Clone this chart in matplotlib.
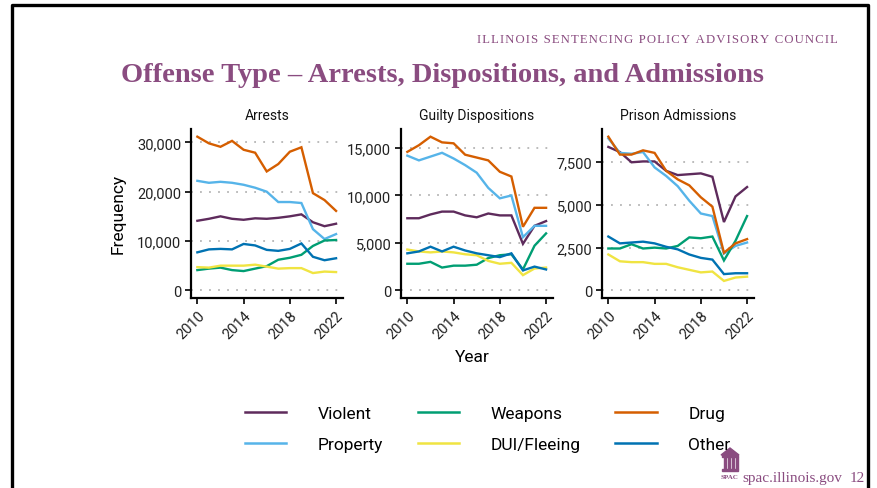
import matplotlib.pyplot as plt
from matplotlib.lines import Line2D
from matplotlib.patches import Rectangle

# --- data ---
years = list(range(2010, 2023))
offenses = ["Violent", "Property", "Weapons", "DUI/Fleeing", "Drug", "Other"]
colors = {
    "Violent": "#5E2B5C",
    "Property": "#56B4E9",
    "Weapons": "#009E73",
    "DUI/Fleeing": "#F0E442",
    "Drug": "#D55E00",
    "Other": "#0072B2",
}
panels = ["Arrests", "Guilty Dispositions", "Prison Admissions"]

arrests_violent = [14100, 14500, 15000, 14500, 14300, 14600, 14500, 14700, 15000, 15400, 13800, 13000, 13500]
arrests_property = [22200, 21800, 22000, 21800, 21400, 20800, 20000, 17900, 17900, 17700, 12400, 10400, 11400]
arrests_weapons = [4100, 4400, 4600, 4100, 3900, 4400, 4900, 6200, 6600, 7200, 9000, 10100, 10200]
arrests_dui = [4700, 4600, 5000, 5000, 5000, 5200, 4800, 4400, 4500, 4500, 3500, 3800, 3700]
arrests_drug = [31150, 29800, 29100, 30300, 28500, 27900, 24100, 25600, 28100, 29000, 19700, 18300, 16100]
arrests_other = [7700, 8300, 8400, 8300, 9400, 9100, 8200, 8000, 8400, 9500, 6800, 6100, 6500]

disp_violent = [7600, 7600, 8000, 8300, 8300, 7900, 7700, 8100, 7900, 7900, 4900, 6800, 7300]
disp_property = [14200, 13700, 14100, 14500, 13900, 13200, 12400, 10800, 9700, 10000, 5600, 6800, 6800]
disp_weapons = [2800, 2800, 3000, 2400, 2600, 2600, 2700, 3400, 3700, 3800, 2200, 4700, 6000]
disp_dui = [4300, 4100, 4000, 4100, 4000, 3800, 3700, 3100, 2800, 2900, 1600, 2300, 2400]
disp_drug = [14600, 15300, 16200, 15600, 15500, 14300, 14000, 13700, 12500, 12000, 6700, 8700, 8700]
disp_other = [3900, 4100, 4600, 4100, 4600, 4200, 3900, 3700, 3500, 3900, 2100, 2500, 2200]

adm_violent = [8400, 8100, 7500, 7550, 7550, 7000, 6750, 6800, 6850, 6650, 4000, 5500, 6050]
adm_property = [8900, 8050, 8000, 8100, 7200, 6700, 6100, 5250, 4500, 4350, 2150, 2600, 2800]
adm_weapons = [2450, 2450, 2700, 2450, 2500, 2450, 2600, 3100, 3050, 3150, 1750, 2900, 4350]
adm_dui = [2100, 1700, 1650, 1650, 1550, 1550, 1350, 1200, 1050, 1100, 550, 750, 800]
adm_drug = [9000, 7950, 7950, 8200, 8050, 7000, 6500, 6150, 5450, 4900, 2200, 2750, 3000]
adm_other = [3150, 2750, 2800, 2850, 2750, 2550, 2400, 2100, 1900, 1800, 950, 1000, 1000]

arrest_ticks = [0, 10000, 20000, 30000]
disp_ticks = [0, 5000, 10000, 15000]
adm_ticks = [0, 2500, 5000, 7500]
year_ticks = [2010, 2014, 2018, 2022]

panel_data = {
    "Arrests": dict(zip(offenses, [arrests_violent, arrests_property, arrests_weapons,
                                   arrests_dui, arrests_drug, arrests_other])),
    "Guilty Dispositions": dict(zip(offenses, [disp_violent, disp_property, disp_weapons,
                                               disp_dui, disp_drug, disp_other])),
    "Prison Admissions": dict(zip(offenses, [adm_violent, adm_property, adm_weapons,
                                             adm_dui, adm_drug, adm_other])),
}
panel_ticks = {"Arrests": arrest_ticks, "Guilty Dispositions": disp_ticks,
               "Prison Admissions": adm_ticks}

# draw order as in the original (later on top)
draw_order = ["Violent", "Property", "Weapons", "DUI/Fleeing", "Drug", "Other"]

W, H = 878, 489
fig = plt.figure(figsize=(W / 100, H / 100), dpi=100)
plt.rcParams['font.family'] = ['Roboto', 'DejaVu Sans']

def px_axes(left, top, right, bottom):
    return fig.add_axes([left / W, 1 - bottom / H, (right - left) / W, (bottom - top) / H])

# panel positions in pixels (left, top, right, bottom)
boxes = [(191, 130, 343, 299), (401, 130, 553, 299), (602, 130, 754, 299)]
purple = "#8A4C80"

for name, box in zip(panels, boxes):
    ax = px_axes(*box)
    data = panel_data[name]
    for off in draw_order:
        ax.plot(years, data[off], color=colors[off], lw=1.7, solid_joinstyle="miter")
    ymax = max(max(v) for v in data.values())
    ax.set_ylim(-0.05 * ymax, 1.05 * ymax)
    ax.set_xlim(2009.45, 2022.6)
    ax.set_yticks(panel_ticks[name])
    ax.set_yticklabels([f"{t:,}" for t in panel_ticks[name]])
    ax.set_xticks(year_ticks)
    ax.set_xticklabels([str(y) for y in year_ticks], rotation=45, ha="right",
                       rotation_mode="anchor")
    ax.grid(axis="y", color="#B5B5B5", lw=1.3, linestyle=(0, (1, 4)))
    ax.set_axisbelow(True)
    for s in ["top", "right"]:
        ax.spines[s].set_visible(False)
    for s in ["left", "bottom"]:
        ax.spines[s].set_linewidth(1.6)
        ax.spines[s].set_color("black")
    ax.tick_params(axis="both", length=4, width=1.2, color="black",
                   labelsize=10.5, labelcolor="#222222", pad=3)
    ax.set_title(name, fontsize=10, pad=7, color="#111111")

fig.text(118 / W, 1 - 214 / H, "Frequency", rotation=90, ha="center", va="center",
         fontsize=12.5, color="black")
fig.text(472 / W, 1 - 358 / H, "Year", ha="center", va="center", fontsize=12.5,
         color="black")

# legend
handles = [Line2D([], [], color=colors[o], lw=1.8) for o in offenses]
fig.legend(handles, offenses, ncol=3, loc="upper left",
           bbox_to_anchor=(229 / W, 1 - 391 / H), frameon=False, fontsize=12.5,
           handlelength=2.4, handletextpad=1.8, columnspacing=2.0, labelspacing=0.95)

# headings
fig.text(443 / W, 1 - 75 / H, "Offense Type \u2013 Arrests, Dispositions, and Admissions",
         ha="center", va="center", fontsize=20.5, fontweight="bold",
         family="Liberation Serif", color=purple)
subtitle = "ILLINOIS SENTENCING POLICY ADVISORY COUNCIL"
fig.text(838 / W, 1 - 40 / H, "\u200a".join(subtitle),
         ha="right", va="center", fontsize=9.2, family="Liberation Serif",
         color=purple)

# footer
fig.text(842 / W, 1 - 479 / H, "spac.illinois.gov", ha="right", va="center",
         fontsize=11, family="Liberation Serif", color=purple)
fig.text(865 / W, 1 - 479 / H, "12", ha="right", va="center",
         fontsize=11, family="Liberation Serif", color=purple)
fig.text(730 / W, 1 - 478 / H, "SPAC", ha="center", va="center", fontsize=5,
         fontweight="bold", family="Liberation Serif", color=purple)
# small building icon
fig.patches.append(Rectangle((722 / W, 1 - 472 / H), 16 / W, 2 / H,
                             transform=fig.transFigure, color=purple))
for cx in [724, 728, 732, 736]:
    fig.patches.append(Rectangle((cx / W, 1 - 470 / H), 1.6 / W, 12 / H,
                                 transform=fig.transFigure, color=purple))
fig.patches.append(Rectangle((722 / W, 1 - 458 / H), 16 / W, 2 / H,
                             transform=fig.transFigure, color=purple))
fig.patches.append(plt.Polygon([(721 / W, 1 - 456 / H), (739 / W, 1 - 456 / H),
                                (730 / W, 1 - 449 / H)], closed=True,
                               transform=fig.transFigure, color=purple))

# slide frame (left, top, right)
fig.add_artist(Line2D([12 / W, 12 / W, 868 / W, 868 / W], [0, 1 - 6 / H, 1 - 6 / H, 0],
                      transform=fig.transFigure, color="black", lw=2.4))

fig.savefig("out.png", dpi=100)
